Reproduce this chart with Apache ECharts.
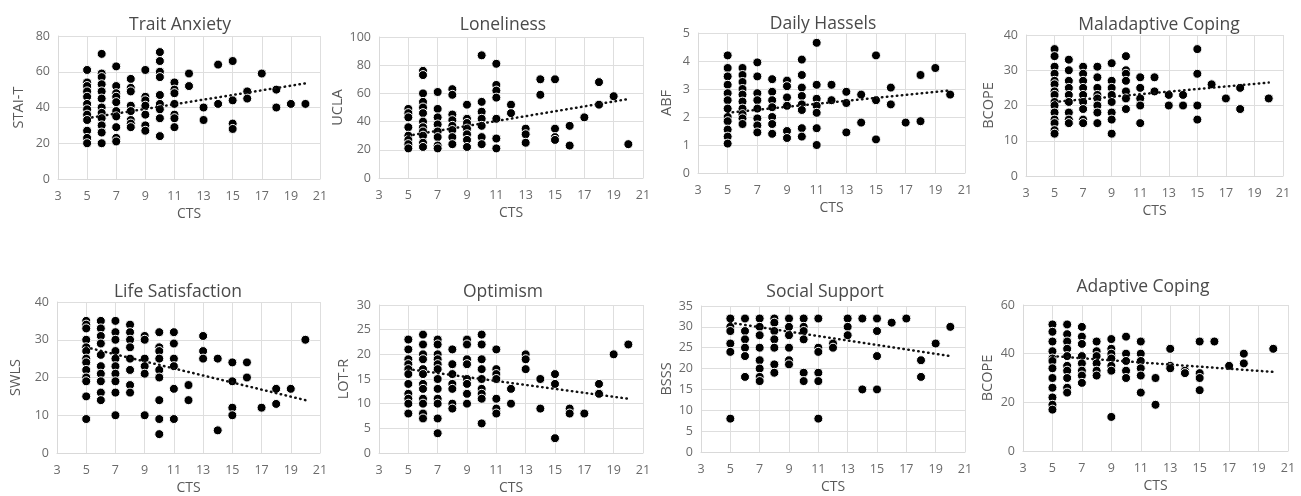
<!DOCTYPE html>
<html><head><meta charset="utf-8">
<script src="https://cdn.jsdelivr.net/npm/echarts@6/dist/echarts.min.js"></script>
<style>html,body{margin:0;padding:0;background:#fff}#c{width:1301px;height:496px}</style>
</head><body><div id="c"></div>
<script>
// Each group: [CTS value, [outcome values at that CTS]]
const traitAnxiety = [
  [5,[61,54,52,49,46,42,39,36,33,27,23,20]],
  [6,[70,59,57,53,49,45,40,37,34,30,26,20]],
  [7,[63,52,48,46,43,38,35,29,23,21]],
  [8,[56,51,49,41,38,33,31,29]],
  [9,[61,46,44,41,36,30,27]],
  [10,[71,66,60,57,47,42,39,34,24]],
  [11,[54,50,48,42,36,34,29]],
  [12,[59,52]],[13,[40,33]],[14,[64,42]],[15,[66,44,31,28]],
  [16,[49,45]],[17,[59]],[18,[50,40]],[19,[42]],[20,[42]]
];
const loneliness = [
  [5,[49,46,43,36,30,27,24,21]],
  [6,[76,73,60,54,50,46,40,36,33,30,25,22]],
  [7,[61,49,43,38,33,29,23,21]],
  [8,[63,59,45,41,37,34,29,24]],
  [9,[52,42,39,35,31,27,22]],
  [10,[87,54,47,42,37,29,24]],
  [11,[81,66,62,57,42,28,21]],
  [12,[52,46]],[13,[35,31,25]],[14,[70,59]],[15,[70,35,29,27]],
  [16,[37,23]],[17,[43]],[18,[68,52]],[19,[58]],[20,[24]]
];
const dailyHassles = [
  [5,[4.2,3.75,3.45,3.15,2.85,2.6,2.3,2.0,1.85,1.55,1.3,1.05]],
  [6,[3.75,3.5,3.25,3.0,2.8,2.55,2.3,2.1,1.95,1.75]],
  [7,[3.95,3.45,2.85,2.6,2.3,1.95,1.7,1.45]],
  [8,[3.35,2.9,2.6,2.35,2.0,1.75,1.4]],
  [9,[3.3,3.1,2.7,2.4,1.5,1.25]],
  [10,[4.05,3.5,3.05,2.75,2.45,2.25,1.6,1.3]],
  [11,[4.65,3.15,2.65,2.4,2.15,1.6,1.0]],
  [12,[3.15,2.6]],[13,[2.9,2.5,1.45]],[14,[2.8,1.8]],[15,[4.2,2.6,1.2]],
  [16,[3.05,2.45]],[17,[1.8]],[18,[3.5,1.85]],[19,[3.75]],[20,[2.8]]
];
const maladaptiveCoping = [
  [5,[36,34,31,29,27,26,24,23,21,20,18,16,15,13,12]],
  [6,[33,30,27,25,23,21,18,16,15]],
  [7,[31,29,27,25,23,21,19,16,15]],
  [8,[31,28,25,23,22,20,18,15]],
  [9,[32,27,25,23,21,18,16,12]],
  [10,[34,30,29,27,24,22,19]],
  [11,[28,25,22,20,15]],
  [12,[28,24]],[13,[23,20]],[14,[23,20]],[15,[36,29,20,16]],
  [16,[26]],[17,[22]],[18,[25,19]],[20,[22]]
];
const lifeSatisfaction = [
  [5,[35,34,33,30,28,27,25,24,22,20,19,15,9]],
  [6,[35,33,31,29,26,23,21,19,16,14]],
  [7,[35,32,30,27,25,23,21,19,16,10]],
  [8,[34,32,30,28,25,22,18,16]],
  [9,[31,30,25,23,21,10]],
  [10,[32,28,27,25,22,20,14,9,5]],
  [11,[32,29,25,23,17,9]],
  [12,[18,14]],[13,[31,27,25]],[14,[25,6]],[15,[24,19,12,10]],
  [16,[24,20]],[17,[12]],[18,[17,13]],[19,[17]],[20,[30]]
];
const optimism = [
  [5,[23,21,19,18,17,16,14,12,11,10,8]],
  [6,[24,22,20,19,17,16,14,13,11,10,8,7]],
  [7,[23,22,20,19,18,17,15,13,11,10,7,4]],
  [8,[21,18,16,14,13,10,9]],
  [9,[23,22,19,18,15,14,12,10]],
  [10,[24,22,19,17,15,13,12,11,6]],
  [11,[21,17,16,15,11,9,8]],
  [12,[13,10]],[13,[20,19,17]],[14,[15,9]],[15,[16,14,3]],
  [16,[9,8]],[17,[8]],[18,[14,12]],[19,[20]],[20,[22]]
];
const socialSupport = [
  [5,[32,30,29,26,24,8]],
  [6,[32,29,27,25,23,18]],
  [7,[32,30,28,25,22,20,18,17]],
  [8,[32,31,29,27,25,21,19]],
  [9,[32,30,28,25,22,21]],
  [10,[32,30,29,27,19,17]],
  [11,[32,25,24,19,17,8]],
  [12,[26,25]],[13,[32,30,28]],[14,[32,15]],[15,[32,29,23,15]],
  [16,[31]],[17,[32]],[18,[22,18]],[19,[26]],[20,[30]]
];
const adaptiveCoping = [
  [5,[52,49,45,41,38,37,34,30,26,22,19,17]],
  [6,[52,48,45,42,39,35,33,30,26,24]],
  [7,[51,47,44,39,36,33,31,28]],
  [8,[45,41,39,36,33,31]],
  [9,[46,42,40,38,35,33,14]],
  [10,[47,40,37,33,30]],
  [11,[45,40,37,34,31,24]],
  [12,[30,19]],[13,[42,35,34]],[14,[33,32]],[15,[45,32,30,25]],
  [16,[45]],[17,[35]],[18,[40,36]],[20,[42]]
];
// Trendline endpoints: [y at CTS=5, y at CTS=20]
const trendTraitAnxiety = [34, 53.5];
const trendLoneliness = [30, 56];
const trendDailyHassles = [2.15, 2.95];
const trendMaladaptive = [21, 26.5];
const trendLife = [28, 14];
const trendOptimism = [17, 11];
const trendSocial = [31, 23];
const trendAdaptive = [39, 32.5];

const panels = [
  {title:'Trait Anxiety', yName:'STAI-T', data:traitAnxiety, trend:trendTraitAnxiety, ymax:80, yint:20},
  {title:'Loneliness', yName:'UCLA', data:loneliness, trend:trendLoneliness, ymax:100, yint:20},
  {title:'Daily Hassels', yName:'ABF', data:dailyHassles, trend:trendDailyHassles, ymax:5, yint:1},
  {title:'Maladaptive Coping', yName:'BCOPE', data:maladaptiveCoping, trend:trendMaladaptive, ymax:40, yint:10},
  {title:'Life Satisfaction', yName:'SWLS', data:lifeSatisfaction, trend:trendLife, ymax:40, yint:10},
  {title:'Optimism', yName:'LOT-R', data:optimism, trend:trendOptimism, ymax:30, yint:5},
  {title:'Social Support', yName:'BSSS', data:socialSupport, trend:trendSocial, ymax:35, yint:5},
  {title:'Adaptive Coping', yName:'BCOPE', data:adaptiveCoping, trend:trendAdaptive, ymax:60, yint:20}
];
// layout: [left, top, width, height, titleX, titleY, yNameGap]
const layout = [
  [58,36,262,143,175,11,32],
  [379,37,264,141,498,11,28],
  [698,33,267,140,818,10,24],
  [1026,35,257,141,1154,11,30],
  [57,302,263,153,173,278,34],
  [379,305,264,149,498,278,28],
  [701,306,264,146,820,278,27],
  [1023,305,265,146,1138,273,28]
];

const FONT = '"Open Sans", "Liberation Sans", sans-serif';
const grid=[], xAxis=[], yAxis=[], series=[], title=[];
panels.forEach((p,i)=>{
  const L = layout[i];
  grid.push({left:L[0], top:L[1], width:L[2], height:L[3], containLabel:false});
  title.push({text:p.title, left:L[4], top:L[5], textAlign:'center',
    textStyle:{fontFamily:FONT, fontSize:17.5, fontWeight:'normal', color:'#4a4a4a'}});
  xAxis.push({gridIndex:i, type:'value', min:3, max:21, interval:2,
    name:'CTS', nameLocation:'middle', nameGap:28,
    nameTextStyle:{fontFamily:FONT, fontSize:14, color:'#595959'},
    axisLine:{show:true, lineStyle:{color:'#d9d9d9'}}, axisTick:{show:false},
    axisLabel:{fontFamily:FONT, fontSize:12.5, color:'#6a6a6a', margin:11},
    splitLine:{show:true, lineStyle:{color:'#dedede'}}});
  yAxis.push({gridIndex:i, type:'value', min:0, max:p.ymax, interval:p.yint,
    name:p.yName, nameLocation:'middle', nameGap:L[6], nameRotate:90,
    nameTextStyle:{fontFamily:FONT, fontSize:14.5, color:'#595959'},
    axisLine:{show:true, lineStyle:{color:'#d9d9d9'}}, axisTick:{show:false},
    axisLabel:{fontFamily:FONT, fontSize:12.5, color:'#6a6a6a', margin:8},
    splitLine:{show:true, lineStyle:{color:'#dedede'}}});
  const pts=[];
  p.data.forEach(g=>g[1].forEach(v=>pts.push([g[0],v])));
  series.push({type:'scatter', xAxisIndex:i, yAxisIndex:i, data:pts, symbolSize:9,
    itemStyle:{color:'#000', borderColor:'#fff', borderWidth:1, opacity:1}, z:2, silent:true});
  series.push({type:'line', xAxisIndex:i, yAxisIndex:i, data:[[5,p.trend[0]],[20,p.trend[1]]],
    symbol:'none', lineStyle:{color:'#111', width:2.5, type:[0.5,4.5], cap:'round'}, z:3, silent:true});
});
const chart = echarts.init(document.getElementById('c'), null, {renderer:'canvas'});
chart.setOption({animation:false, backgroundColor:'#fff', title, grid, xAxis, yAxis, series});
</script></body></html>
